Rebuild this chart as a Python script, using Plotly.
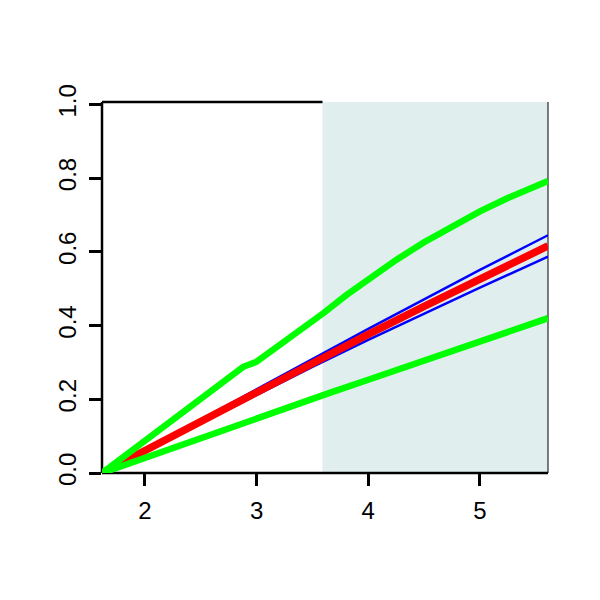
import plotly.graph_objects as go

# Data
x_center = [1.615, 2.0, 2.5, 3.0, 3.5, 4.0, 4.5, 5.0, 5.61]
red_mid = [0.0, 0.061, 0.141, 0.220, 0.299, 0.376, 0.452, 0.527, 0.616]
blue_up = [0.0, 0.063, 0.146, 0.228, 0.310, 0.391, 0.471, 0.551, 0.645]
blue_lo = [0.0, 0.059, 0.136, 0.212, 0.288, 0.361, 0.433, 0.503, 0.587]

x_gup = [1.615, 2.88, 3.0, 3.3, 3.6, 3.8, 4.0, 4.25, 4.5, 4.75, 5.0, 5.25, 5.61]
green_up = [0.0, 0.288, 0.302, 0.367, 0.434, 0.482, 0.526, 0.578, 0.626, 0.670, 0.710, 0.746, 0.792]

x_glo = [1.615, 3.0, 3.567, 3.68, 4.0, 4.5, 5.0, 5.61]
green_lo = [0.0, 0.150, 0.212, 0.220, 0.253, 0.305, 0.357, 0.420]

x_ticks = [2, 3, 4, 5]
y_ticks = [0.0, 0.2, 0.4, 0.6, 0.8, 1.0]
y_tick_text = ["0.0", "0.2", "0.4", "0.6", "0.8", "1.0"]

shade_start = 3.59
x_range = [1.615, 5.61]
y_range = [0.0, 1.0065]

fig = go.Figure()
fig.add_trace(go.Scatter(x=x_center, y=blue_up, mode="lines", line=dict(color="#0000FF", width=2.4)))
fig.add_trace(go.Scatter(x=x_center, y=blue_lo, mode="lines", line=dict(color="#0000FF", width=2.4)))
fig.add_trace(go.Scatter(x=x_center, y=red_mid, mode="lines", line=dict(color="#FF0000", width=7.5)))
fig.add_trace(go.Scatter(x=x_gup, y=green_up, mode="lines", line=dict(color="#00FF00", width=6.5)))
fig.add_trace(go.Scatter(x=x_glo, y=green_lo, mode="lines", line=dict(color="#00FF00", width=6.5)))

shapes = [
    dict(type="rect", xref="x", yref="paper", x0=shade_start, x1=x_range[1], y0=0, y1=1,
         fillcolor="#E0EEEE", line=dict(width=0), layer="below"),
    dict(type="line", xref="paper", yref="paper", x0=0, x1=0, y0=0, y1=1,
         line=dict(color="black", width=2.5), layer="below"),
    dict(type="line", xref="paper", yref="paper", x0=0, x1=1, y0=0, y1=0,
         line=dict(color="black", width=2.5), layer="below"),
    dict(type="line", xref="x", yref="paper", x0=x_range[0], x1=shade_start, y0=1, y1=1,
         line=dict(color="black", width=2.5), layer="below"),
    dict(type="line", xref="paper", yref="paper", x0=1, x1=1, y0=0, y1=1,
         line=dict(color="black", width=1), layer="below"),
]

font = dict(family="Liberation Sans", size=24, color="black")

fig.update_layout(
    width=600, height=600,
    margin=dict(l=94, r=60, t=94, b=135),
    paper_bgcolor="white", plot_bgcolor="white",
    showlegend=False,
    shapes=shapes,
    font=font,
    xaxis=dict(range=x_range, tickvals=x_ticks, ticks="outside", ticklen=12, tickwidth=2.5,
               tickcolor="black", showgrid=False, zeroline=False, showline=False,
               tickfont=font, ticklabelstandoff=4),
    yaxis=dict(range=y_range, tickvals=y_ticks, ticktext=y_tick_text, ticks="outside",
               ticklen=12, tickwidth=2.5, tickcolor="black", showgrid=False, zeroline=False,
               showline=False, tickangle=-90, tickfont=font, ticklabelstandoff=3),
)

fig.write_html("out.html")
